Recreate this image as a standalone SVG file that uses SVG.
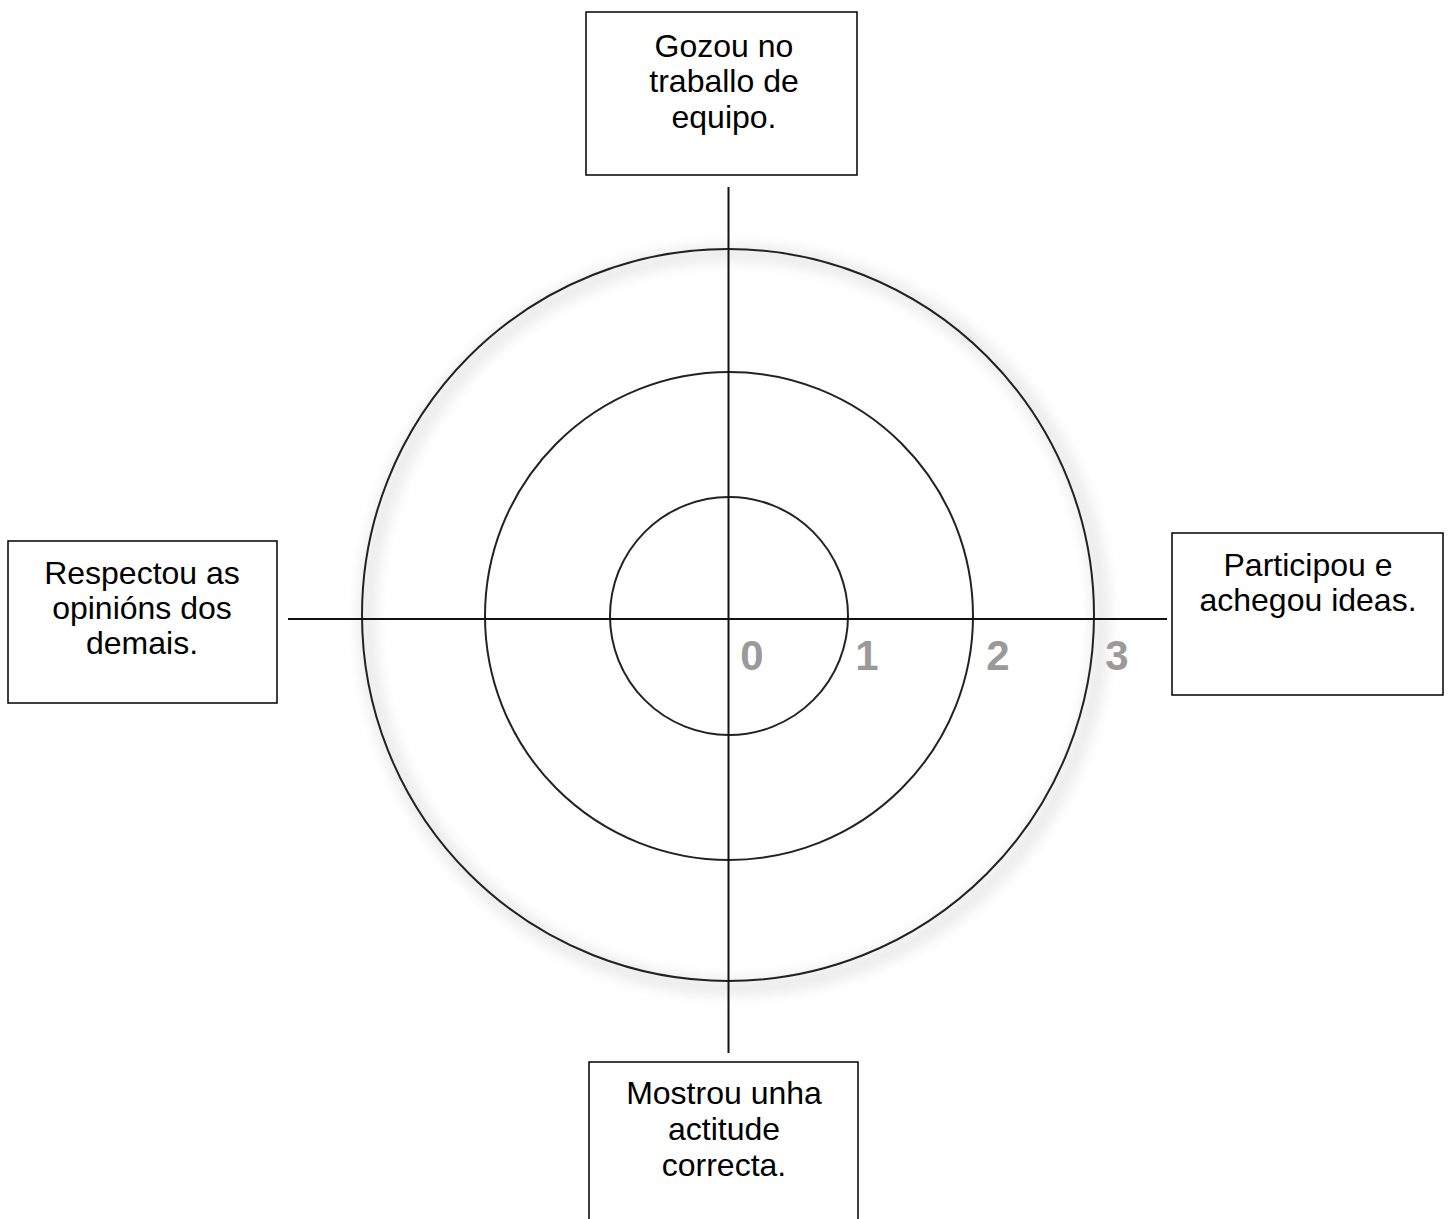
<svg xmlns="http://www.w3.org/2000/svg" width="1450" height="1219" viewBox="0 0 1450 1219">
<style>
.box{fill:#fff;stroke:#000;stroke-width:1.5}
.lbl{font-family:"Liberation Sans",Arial,sans-serif;font-size:32px;fill:#000;text-anchor:middle}
.ring{fill:none;stroke:#222;stroke-width:2}
.axis{stroke:#111;stroke-width:2}
.num{font-family:"Liberation Sans",Arial,sans-serif;font-size:42px;font-weight:bold;fill:#9a9a9a;text-anchor:middle}
</style>
<defs>
<filter id="sh" x="-20%" y="-20%" width="140%" height="140%"><feGaussianBlur stdDeviation="8"/></filter>
</defs>
<rect width="1450" height="1219" fill="#fff"/>
<g id="target">
<circle cx="734" cy="620" r="367" fill="none" stroke="#ddd" stroke-width="10" filter="url(#sh)"/>
<circle class="ring" cx="728" cy="615" r="366"/>
<circle class="ring" cx="729" cy="616" r="244"/>
<circle class="ring" cx="729" cy="616" r="119"/>
</g>
<g id="connectors">
<line class="axis" x1="288" y1="619" x2="1167" y2="619"/>
<line class="axis" x1="728.5" y1="187" x2="728.5" y2="1053"/>
</g>
<g id="scale">
<text class="num" x="752" y="670">0</text>
<text class="num" x="867" y="670">1</text>
<text class="num" x="998" y="670">2</text>
<text class="num" x="1117" y="670">3</text>
</g>
<g id="node-top">
<rect class="box" x="586" y="12" width="271" height="163"/>
<text class="lbl" x="724" y="57">Gozou no</text>
<text class="lbl" x="724" y="92">traballo de</text>
<text class="lbl" x="724" y="128">equipo.</text>
</g>
<g id="node-left">
<rect class="box" x="8" y="541" width="269" height="162"/>
<text class="lbl" x="142" y="584">Respectou as</text>
<text class="lbl" x="142" y="619">opinións dos</text>
<text class="lbl" x="142" y="654">demais.</text>
</g>
<g id="node-right">
<rect class="box" x="1172" y="533" width="271" height="162"/>
<text class="lbl" x="1308" y="576">Participou e</text>
<text class="lbl" x="1308" y="611">achegou ideas.</text>
</g>
<g id="node-bottom">
<rect class="box" x="589" y="1062" width="269" height="170"/>
<text class="lbl" x="724" y="1104">Mostrou unha</text>
<text class="lbl" x="724" y="1140">actitude</text>
<text class="lbl" x="724" y="1176">correcta.</text>
</g>
</svg>
